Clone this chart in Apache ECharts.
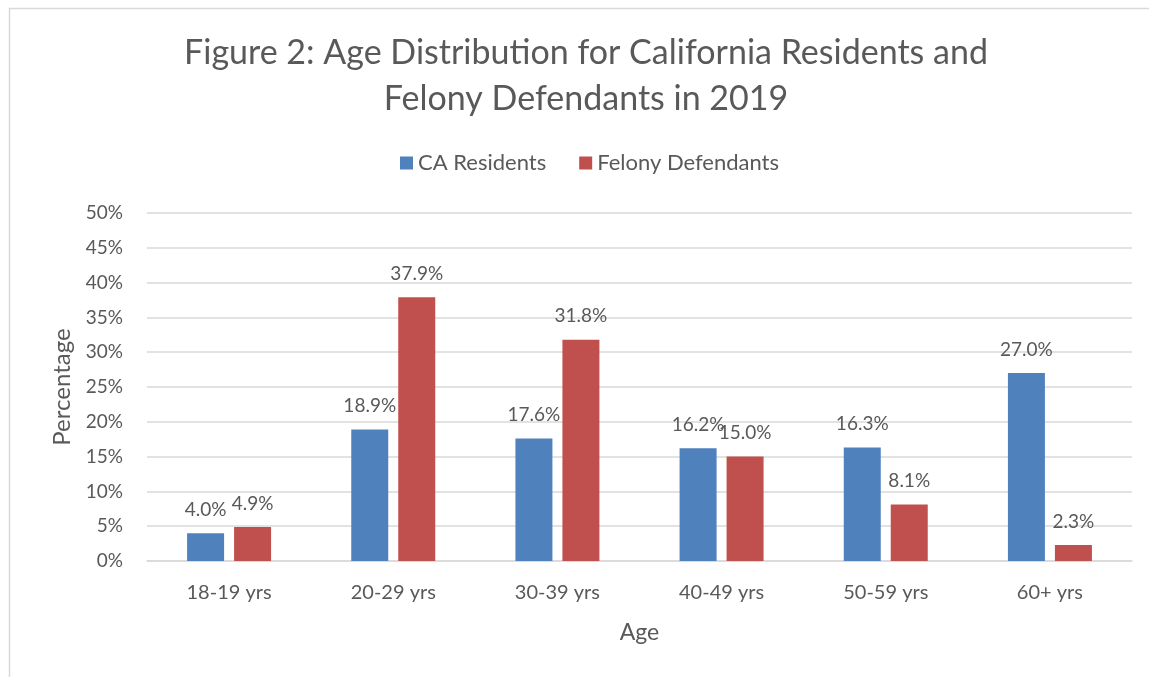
<!DOCTYPE html>
<html>
<head>
<meta charset="utf-8">
<script src="https://cdn.jsdelivr.net/npm/echarts@6/dist/echarts.min.js"></script>
<style>
html,body{margin:0;padding:0;background:#fff;}
#chart{width:1149px;height:677px;}
</style>
</head>
<body>
<div id="chart"></div>
<script>
const categories = ['18-19 yrs', '20-29 yrs', '30-39 yrs', '40-49 yrs', '50-59 yrs', '60+ yrs'];
const caResidents = [4.0, 18.9, 17.6, 16.2, 16.3, 27.0];
const felonyDefendants = [4.9, 37.9, 31.8, 15.0, 8.1, 2.3];
const yTicks = { min: 0, max: 50, interval: 5 };

const FONT = 'Lato';
const TXT = '#595959';

const chart = echarts.init(document.getElementById('chart'), null, { renderer: 'canvas' });
const labelCfg = {
  show: true,
  position: 'top',
  distance: 14,
  color: TXT,
  fontFamily: FONT,
  fontSize: 19,
  formatter: p => p.value.toFixed(1) + '%'
};
chart.setOption({
  backgroundColor: '#ffffff',
  animation: false,
  graphic: [{
    type: 'rect',
    shape: { x: 9.5, y: 8.5, width: 1300, height: 1000 },
    style: { fill: 'none', stroke: '#D9D9D9', lineWidth: 1.5 },
    silent: true
  }],
  title: {
    text: 'Figure 2: Age Distribution for California Residents and\nFelony Defendants in 2019',
    left: 581,
    top: 25,
    textAlign: 'center',
    textStyle: { fontFamily: FONT, fontSize: 34, fontWeight: 'normal', color: TXT, lineHeight: 46 }
  },
  legend: {
    data: ['CA Residents', 'Felony Defendants'],
    left: 395,
    top: 147,
    itemWidth: 13,
    itemHeight: 13,
    itemGap: 33,
    icon: 'rect',
    textStyle: { fontFamily: FONT, fontSize: 22, color: TXT, padding: [0, 0, 0, 0] }
  },
  grid: { left: 147, right: 17, top: 213, bottom: 116, containLabel: false },
  xAxis: {
    type: 'category',
    data: categories,
    name: 'Age',
    nameLocation: 'middle',
    nameGap: 60,
    nameTextStyle: { fontFamily: FONT, fontSize: 23, color: TXT },
    axisLine: { show: true, lineStyle: { color: '#D9D9D9', width: 1.5 } },
    axisTick: { show: false },
    axisLabel: { fontFamily: FONT, fontSize: 20, color: TXT, margin: 22 }
  },
  yAxis: {
    type: 'value',
    min: yTicks.min,
    max: yTicks.max,
    interval: yTicks.interval,
    name: 'Percentage',
    nameLocation: 'middle',
    nameGap: 73,
    nameRotate: 90,
    nameTextStyle: { fontFamily: FONT, fontSize: 24, color: TXT },
    axisLine: { show: false },
    axisTick: { show: false },
    splitLine: { lineStyle: { color: '#D9D9D9', width: 1.5 } },
    axisLabel: { fontFamily: FONT, fontSize: 19, color: TXT, margin: 24, formatter: v => v + '%' }
  },
  series: [
    {
      name: 'CA Residents',
      type: 'bar',
      data: caResidents,
      barWidth: 37,
      barGap: '27%',
      itemStyle: { color: '#4F81BD' },
      label: labelCfg
    },
    {
      name: 'Felony Defendants',
      type: 'bar',
      data: felonyDefendants,
      barWidth: 37,
      itemStyle: { color: '#C0504D' },
      label: labelCfg
    }
  ]
});
</script>
</body>
</html>
